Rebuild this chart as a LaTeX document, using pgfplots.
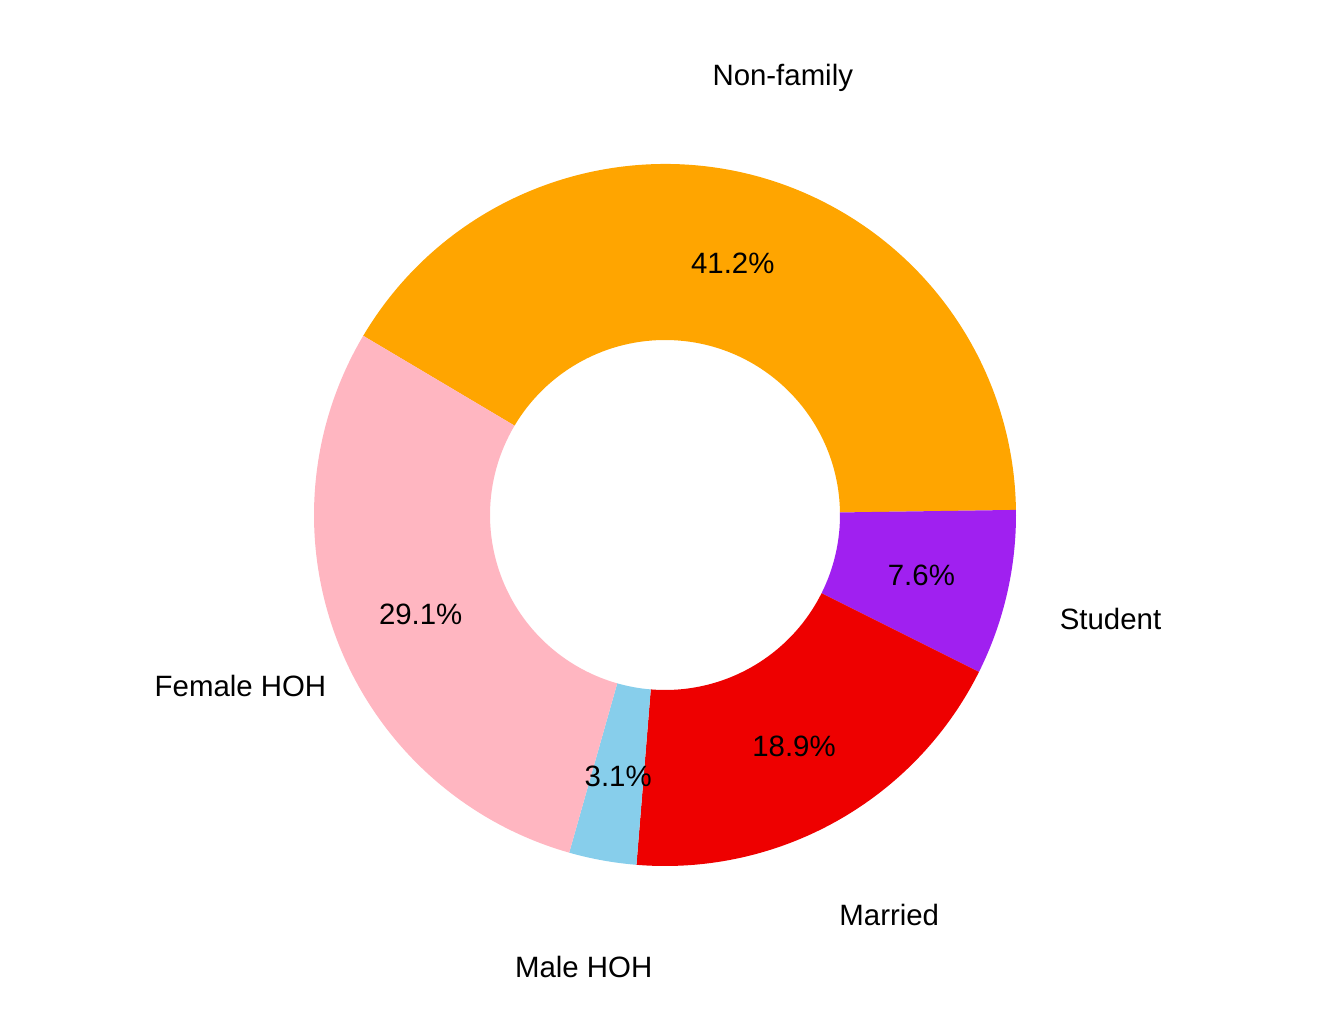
\documentclass[border=0pt]{standalone}
\usepackage{pgfplots}
\pgfplotsset{compat=1.18}
\usepackage{pgfplotstable}
\usepackage{fontspec}
\setmainfont{Liberation Sans}
\definecolor{cNon}{HTML}{FFA500}
\definecolor{cStu}{HTML}{A020F0}
\definecolor{cMar}{HTML}{EE0000}
\definecolor{cMal}{HTML}{87CEEB}
\definecolor{cFem}{HTML}{FFB6C1}

\pgfplotstableread[col sep=comma]{
label,value,color
Non-family,41.2,cNon
Student,7.6,cStu
Married,18.9,cMar
Male HOH,3.1,cMal
Female HOH,29.1,cFem
}\data

\def\startangle{149.3}
\pgfplotstablegetrowsof{\data}
\pgfmathtruncatemacro\nrows{\pgfplotsretval-1}
\def\tot{0}
\pgfplotsforeachungrouped \i in {0,...,\nrows}{%
  \pgfplotstablegetelem{\i}{value}\of\data
  \pgfmathsetmacro\tot{\tot+\pgfplotsretval}%
}
\def\cum{\startangle}
\pgfplotsforeachungrouped \i in {0,...,\nrows}{%
  \pgfplotstablegetelem{\i}{value}\of\data
  \edef\val{\pgfplotsretval}%
  \expandafter\xdef\csname pv\i\endcsname{\val}%
  \pgfmathsetmacro\a{\cum}%
  \pgfmathsetmacro\b{\cum-\val/\tot*360}%
  \pgfmathsetmacro\m{(\a+\b)/2}%
  \expandafter\xdef\csname sa\i\endcsname{\a}%
  \expandafter\xdef\csname ea\i\endcsname{\b}%
  \expandafter\xdef\csname ma\i\endcsname{\m}%
  \xdef\cum{\b}%
  \pgfplotstablegetelem{\i}{label}\of\data
  \expandafter\xdef\csname lb\i\endcsname{\pgfplotsretval}%
  \pgfplotstablegetelem{\i}{color}\of\data
  \edef\tmpcol{\pgfplotsretval}%
  \colorlet{sec\i}{\tmpcol}%
}

\begin{document}
\begin{tikzpicture}
\begin{axis}[
  width=672pt, height=504pt, scale only axis,
  xmin=-665, xmax=679, ymin=-493, ymax=515,
  hide axis, clip=false,
]
\path (rel axis cs:0,0) rectangle (rel axis cs:1,1);
\pgfplotsinvokeforeach{0,...,4}{
  \fill[fill=sec#1] ([shift={(\csname sa#1\endcsname:175.5pt)}]axis cs:0,0)
    arc[start angle=\csname sa#1\endcsname, end angle=\csname ea#1\endcsname, radius=175.5pt]
    -- ([shift={(\csname ea#1\endcsname:87.5pt)}]axis cs:0,0)
    arc[start angle=\csname ea#1\endcsname, end angle=\csname sa#1\endcsname, radius=87.5pt]
    -- cycle;
}
\pgfplotsinvokeforeach{0,...,4}{
  \node[font=\fontsize{14.7}{17}\selectfont, anchor=base, yshift=-6.2pt, inner sep=0pt] at ([shift={(\csname ma#1\endcsname:131.5pt)}]axis cs:0,0) {\csname pv#1\endcsname\%};
  \node[font=\fontsize{14.7}{17}\selectfont, anchor=base, yshift=-6.2pt, inner sep=0pt] at ([shift={(\csname ma#1\endcsname:228.5pt)}]axis cs:0,0) {\csname lb#1\endcsname};
}
\end{axis}
\end{tikzpicture}
\end{document}
